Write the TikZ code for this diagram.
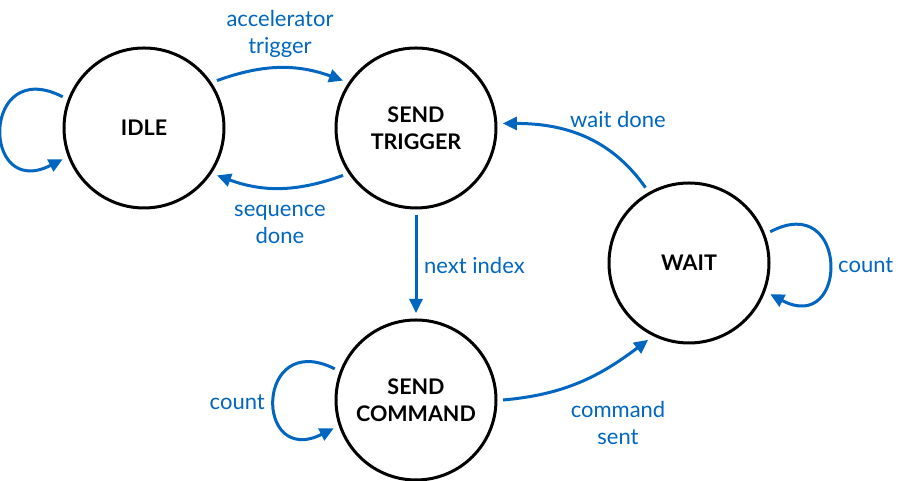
\documentclass[tikz,border=0pt]{standalone}
\usepackage{fontspec}
\setmainfont{Lato}
\usetikzlibrary{arrows.meta}
\definecolor{fsmblue}{RGB}{0,102,192}
\begin{document}
\begin{tikzpicture}[x=1pt,y=1pt,
  state/.style={circle,draw=black,line width=3pt,minimum size=160pt,inner sep=0pt,outer sep=7pt,
    font=\bfseries\fontsize{21.5}{27}\selectfont,align=center},
  trans/.style={draw=fsmblue,line width=3pt,-{Triangle[length=14pt,width=13pt]}},
  lbl/.style={text=fsmblue,font=\fontsize{22}{27}\selectfont,align=center,inner sep=0pt}]
\useasboundingbox (0,0) rectangle (898,481);
\node[state] (idle) at (144,353) {IDLE};
\node[state] (trig) at (416,353) {SEND\\TRIGGER};
\node[state] (cmd) at (416,81) {SEND\\COMMAND};
\node[state] (wait) at (689,218) {WAIT};

\draw[trans] (idle.33) to[bend left=20] (trig.147);
\draw[trans] (trig.213) to[bend left=20] (idle.327);
\draw[trans] (idle.159) .. controls +(-82,42) and +(-82,-42) .. (idle.201);
\draw[trans] (trig.south) -- (cmd.north);
\draw[trans] (cmd.159) .. controls +(-80,40) and +(-80,-40) .. (cmd.199);
\draw[trans] (cmd.0) to[out=5,in=217] (wait.242);
\draw[trans] (wait.120) to[out=125,in=0] (trig.3);
\draw[trans] (wait.21) .. controls +(79,42) and +(79,-42) .. (wait.-21);

\node[lbl] (lacc) at (280,447.5) {accelerator\\trigger};
\node[lbl] (lseq) at (280,256.5) {sequence\\done};
\node[lbl,anchor=west] (lnext) at (424,216) {next index};
\node[lbl,anchor=east] (lcnt1) at (265,79) {count};
\node[lbl] (lcmd) at (618,58) {command\\sent};
\node[lbl] (lwait) at (618,362) {wait done};
\node[lbl,anchor=west] (lcnt2) at (838,216) {count};
\end{tikzpicture}
\end{document}
